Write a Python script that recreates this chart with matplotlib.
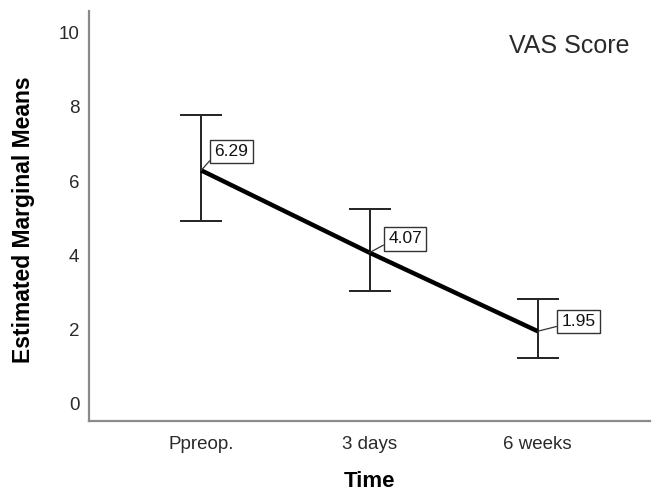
import matplotlib
matplotlib.use("Agg")
import matplotlib.pyplot as plt

categories = ["Ppreop.", "3 days", "6 weeks"]
means = [6.29, 4.07, 1.95]
ci_low = [4.93, 3.04, 1.23]
ci_high = [7.79, 5.25, 2.82]
labels = ["6.29", "4.07", "1.95"]
yticks = [0, 2, 4, 6, 8, 10]

plt.rcParams['font.family'] = ['Liberation Sans', 'DejaVu Sans']

W, H = 657, 490
fig = plt.figure(figsize=(W / 100, H / 100), dpi=100)
ax = fig.add_axes([89 / W, (H - 421) / H, (650 - 89) / W, (421 - 11) / H])

x = list(range(len(categories)))
ax.plot(x, means, color='black', lw=3.2, solid_capstyle='butt', zorder=3)
yerr = [[m - l for m, l in zip(means, ci_low)], [h - m for m, h in zip(means, ci_high)]]
ax.errorbar(x, means, yerr=yerr, fmt='none', ecolor='#222222', elinewidth=1.4,
            capsize=15, capthick=1.4, zorder=2)

offsets = [(9.5, 13.5), (13.5, 10), (17, 7)]
for xi, m, lab, off in zip(x, means, labels, offsets):
    ax.annotate(lab, xy=(xi, m), xytext=off, textcoords='offset points',
                ha='left', va='center', fontsize=12.5, color='#111111',
                bbox=dict(boxstyle='square,pad=0.25', fc='white', ec='#333333', lw=1),
                arrowprops=dict(arrowstyle='-', color='#333333', lw=0.9,
                                shrinkA=0, shrinkB=0, relpos=(0, 0.25)),
                zorder=5)

ax.set_xlim(-0.667, 2.667)
ax.set_ylim(-0.472, 10.59)
ax.set_xticks(x)
ax.set_xticklabels(categories)
ax.set_yticks(yticks)
ax.tick_params(axis='both', length=0, labelsize=13.5, colors='#2a2a2a')
ax.tick_params(axis='y', pad=7)
ax.tick_params(axis='x', pad=10.5)

for s in ['top', 'right']:
    ax.spines[s].set_visible(False)
for s in ['left', 'bottom']:
    ax.spines[s].set_color('#8a8a8a')
    ax.spines[s].set_linewidth(1.6)

yl = ax.set_ylabel("Estimated Marginal Means", fontsize=16.5, fontweight='bold')
yl.set_verticalalignment('center')
ax.yaxis.set_label_coords((24 - 89) / 561, (421 - 219.5) / 410)
xl = ax.set_xlabel("Time", fontsize=16, fontweight='bold')
xl.set_verticalalignment('center')
ax.xaxis.set_label_coords((369 - 89) / 561, (421 - 481) / 410)
ax.text(569.5 / W, (H - 46) / H, "VAS Score", transform=fig.transFigure,
        ha='center', va='center', fontsize=18, color='#2a2a2a')

fig.savefig("out.png", dpi=100)
